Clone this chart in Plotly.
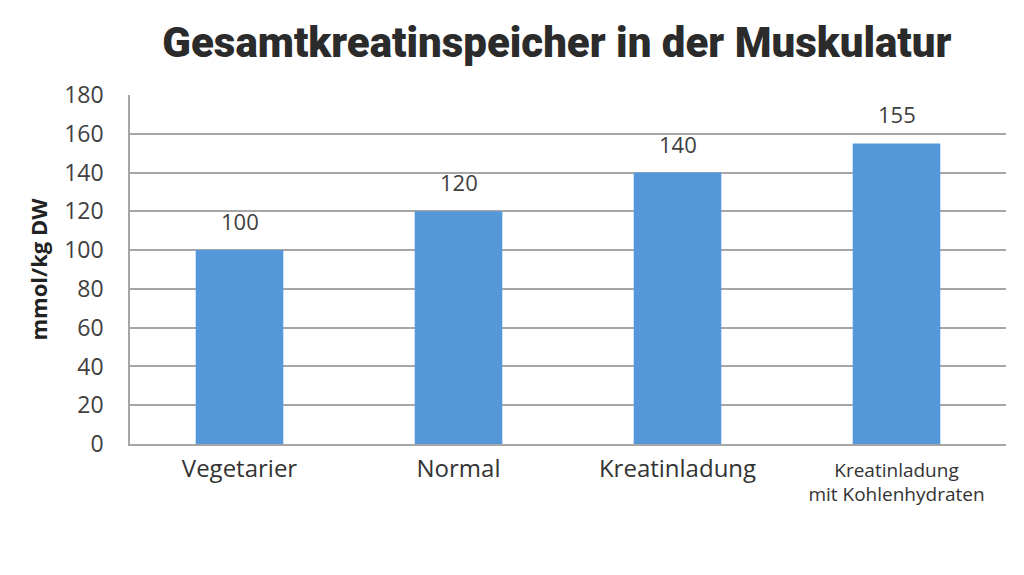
import plotly.graph_objects as go

# Daten aus dem Diagramm
kategorien = ["Vegetarier", "Normal", "Kreatinladung", "Kreatinladung mit Kohlenhydraten"]
tick_labels = [
    "<span style='font-size:24px'>Vegetarier</span>",
    "<span style='font-size:24px'>Normal</span>",
    "<span style='font-size:24px'>Kreatinladung</span>",
    "Kreatinladung<br>mit Kohlenhydraten",
]
werte = [100, 120, 140, 155]

fig = go.Figure()
fig.add_trace(go.Bar(
    x=kategorien,
    y=werte,
    marker=dict(color="#5598da", line=dict(width=0)),
))

# Wertebeschriftungen über den Balken
for k, v in zip(kategorien, werte):
    fig.add_annotation(
        x=k, y=v, text=str(v), showarrow=False,
        yanchor="bottom", yshift=12,
        font=dict(size=22, color="#404040", family="Open Sans"),
    )

fig.update_layout(
    title=dict(
        text="Gesamtkreatinspeicher in der Muskulatur",
        x=0.536, xanchor="center", y=0.94, yanchor="middle",
        font=dict(family="Roboto", size=42, weight=900, color="#2b2b2b"),
    ),
    width=1024, height=575,
    plot_bgcolor="white", paper_bgcolor="white",
    margin=dict(l=122, r=26, t=87, b=139),
    bargap=0.6,
    showlegend=False,
    font=dict(family="Open Sans", color="#404040"),
)
fig.update_xaxes(
    tickvals=kategorien, ticktext=tick_labels,
    tickfont=dict(size=19, color="#333333"),
    showline=True, linecolor="#a6a6a6", linewidth=1.5,
    ticks="", showgrid=False, ticklabelstandoff=8,
)
fig.update_yaxes(
    range=[0, 180], dtick=20,
    tickfont=dict(size=23, color="#404040"),
    showline=True, linecolor="#a6a6a6", linewidth=1.5,
    showgrid=True, gridcolor="#a6a6a6", gridwidth=1.5,
    zeroline=False, ticks="", ticklen=0, ticklabelstandoff=20,
    title=dict(text="<b>mmol/kg DW</b>", font=dict(size=22, color="#222222"), standoff=10),
)

fig.write_html("out.html")
